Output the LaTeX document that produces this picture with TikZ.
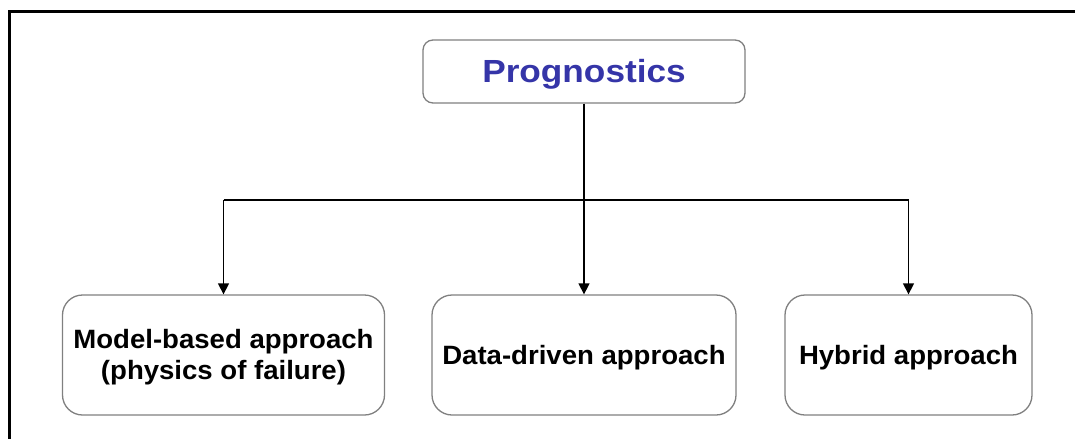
\documentclass[tikz,border=0pt]{standalone}
\usepackage{fontspec}
\setmainfont{Liberation Sans}
\newfontfamily\titlefont[FakeStretch=1.1]{Liberation Sans}
\newfontfamily\boxfont[FakeStretch=1.04]{Liberation Sans}
\usetikzlibrary{arrows.meta}
\definecolor{titleblue}{HTML}{3535A8}
\definecolor{boxgrey}{HTML}{808080}
% set a label a little lower than the box centre, keeping the box size
\newcommand\lowertext[2]{\raisebox{-#1}[\height][\depth]{\begin{tabular}{@{}c@{}}#2\end{tabular}}}
\tikzset{
  frameline/.style={line width=3pt, black},
  topbox/.style={draw=boxgrey, line width=1.3pt, rounded corners=10pt, fill=white,
    minimum width=322pt, minimum height=63pt, inner sep=0pt,
    font=\titlefont\bfseries\fontsize{32}{36}\selectfont, text=titleblue},
  approachbox/.style={draw=boxgrey, line width=1.3pt, rounded corners=20pt, fill=white,
    minimum height=120pt, inner sep=0pt, align=center,
    font=\boxfont\bfseries\fontsize{26.5}{31}\selectfont, text=black},
  link/.style={line width=1.3pt, black},
  arrowlink/.style={link, -{Triangle[length=11pt, width=11pt]}}
}
\begin{document}
\begin{tikzpicture}[x=1pt, y=-1pt]
  \useasboundingbox (0,0) rectangle (1075,439);
  % open frame on the top and left
  \draw[frameline] (1075,11) -- (9,11) -- (9,439);

  \node[topbox] (prog) at (584,71.5) {\lowertext{4pt}{Prognostics}};

  \node[approachbox, minimum width=322pt] (model) at (223.5,355)
    {\lowertext{3pt}{Model-based approach\\(physics of failure)}};
  \node[approachbox, minimum width=304pt] (data) at (584,355)
    {\lowertext{3pt}{Data-driven approach}};
  \node[approachbox, minimum width=247pt] (hybrid) at (908.5,355)
    {\lowertext{3pt}{Hybrid approach}};

  \coordinate (split) at (584,200);
  \draw[link] (prog.south) -- (split);
  \draw[link] (model.north |- split) -- (hybrid.north |- split);
  \draw[arrowlink] (model.north |- split) -- (model.north);
  \draw[arrowlink] (split) -- (data.north);
  \draw[arrowlink] (hybrid.north |- split) -- (hybrid.north);
\end{tikzpicture}
\end{document}
